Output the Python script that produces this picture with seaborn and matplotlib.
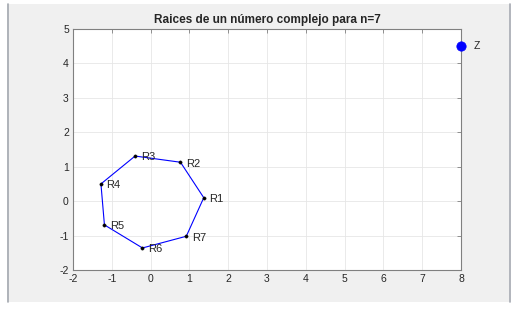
import pandas as pd
import matplotlib
matplotlib.use("Agg")
import matplotlib.pyplot as plt
import seaborn as sns
from matplotlib.patches import Rectangle
from matplotlib.lines import Line2D

# roots
root_names = ["R1", "R2", "R3", "R4", "R5", "R6", "R7"]
root_x = [1.37, 0.77, -0.40, -1.28, -1.19, -0.21, 0.92]
root_y = [0.10, 1.13, 1.31, 0.50, -0.69, -1.36, -1.02]
z_x = [8]
z_y = [4.5]
x_ticks = [-2, -1, 0, 1, 2, 3, 4, 5, 6, 7, 8]
y_ticks = [-2, -1, 0, 1, 2, 3, 4, 5]

sns.set_style("whitegrid")
plt.rcParams['font.family'] = ['Liberation Sans', 'DejaVu Sans']
plt.rcParams['axes.unicode_minus'] = False

roots = pd.DataFrame({"x": root_x, "y": root_y, "name": root_names})
closed = pd.concat([roots, roots.iloc[[0]]], ignore_index=True)

fig = plt.figure(figsize=(5.14, 3.09), dpi=100)
fig.patch.set_facecolor("white")
# matlab style gray panel, behind the axes
fig.patches.append(Rectangle((7 / 514, 1 - 302 / 309), 502 / 514, 298 / 309,
                             transform=fig.transFigure, facecolor="#f0f0f0",
                             edgecolor="none", zorder=-5))
for xe in (7.5 / 514, 509.5 / 514):
    fig.lines.append(Line2D([xe, xe], [1 - 302 / 309, 1 - 4 / 309],
                            transform=fig.transFigure, color="#a4a8b0",
                            linewidth=1.2, zorder=-4))

ax = fig.add_axes([73 / 514, 1 - 270 / 309, 388 / 514, 241 / 309])
ax.set_zorder(1)
ax.set_facecolor("white")

sns.lineplot(data=closed, x="x", y="y", sort=False, estimator=None,
             color="blue", linewidth=0.8, ax=ax)
sns.scatterplot(data=roots, x="x", y="y", color="black", s=6,
                edgecolor="black", ax=ax, zorder=3)
sns.scatterplot(x=z_x, y=z_y, color="blue", s=45, edgecolor="blue", ax=ax,
                zorder=3, clip_on=False)

for _, r in roots.iterrows():
    ax.annotate(r["name"], (r["x"], r["y"]), xytext=(4, -1),
                textcoords="offset points", va="center", fontsize=8)
ax.annotate("Z", (z_x[0], z_y[0]), xytext=(9, 0), textcoords="offset points",
            va="center", fontsize=7.5, annotation_clip=False)

ax.set_xlim(-2, 8)
ax.set_ylim(-2, 5)
ax.set_xticks(x_ticks)
ax.set_yticks(y_ticks)
ax.set_xlabel("")
ax.set_ylabel("")
ax.grid(True, color="#e6e6e6", linewidth=0.6)
ax.tick_params(direction="in", length=3, width=0.6, colors="#808080",
               labelcolor="#262626", labelsize=7.5, top=True, right=True,
               pad=3)
for s in ax.spines.values():
    s.set_color("#808080")
    s.set_linewidth(0.8)
ax.set_title("Raices de un número complejo para n=7", fontsize=8.5,
             fontweight="bold", pad=4)

fig.savefig("out.png", dpi=100)
